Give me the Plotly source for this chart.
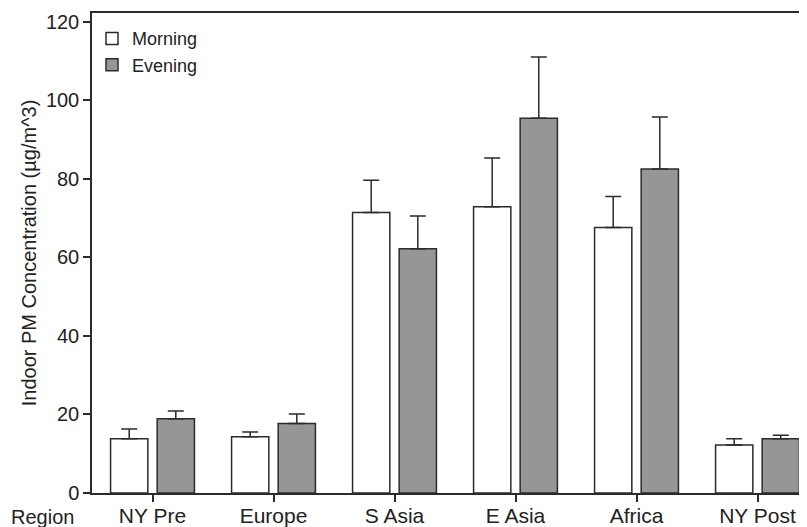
import plotly.graph_objects as go

regions = ["NY Pre", "Europe", "S Asia", "E Asia", "Africa", "NY Post"]
morning = [13.8, 14.3, 71.4, 72.9, 67.6, 12.2]
morning_err_top = [16.3, 15.5, 79.6, 85.3, 75.5, 13.8]
evening = [18.9, 17.7, 62.2, 95.4, 82.5, 13.8]
evening_err_top = [20.9, 20.1, 70.5, 111.0, 95.7, 14.7]

m_err = [t - v for t, v in zip(morning_err_top, morning)]
e_err = [t - v for t, v in zip(evening_err_top, evening)]

FONT = "Liberation Sans, Arial, Helvetica, sans-serif"
DARK = "#2b2b2b"

# page body has an 8px margin; compensate so the plot lands where the reference has it
L, T, B = 84, 5, 42
PW = 807 - L

fig = go.Figure()
fig.add_trace(go.Bar(
    name="Morning", x=regions, y=morning,
    marker=dict(color="white", line=dict(color=DARK, width=1.5)),
    error_y=dict(type="data", symmetric=False, array=m_err,
                 arrayminus=[0] * len(m_err), color=DARK, thickness=1.5, width=8),
))
fig.add_trace(go.Bar(
    name="Evening", x=regions, y=evening,
    marker=dict(color="#969696", line=dict(color=DARK, width=1.5)),
    error_y=dict(type="data", symmetric=False, array=e_err,
                 arrayminus=[0] * len(e_err), color=DARK, thickness=1.5, width=8),
))

fig.update_layout(
    width=807, height=527,
    margin=dict(l=L, r=0, t=T, b=B, autoexpand=False),
    paper_bgcolor="white", plot_bgcolor="white",
    barmode="group", bargap=0.23, bargroupgap=0.2,
    font=dict(family=FONT, color="#222", size=20),
    showlegend=True,
    legend=dict(x=0.0, y=0.985, xanchor="left", yanchor="top",
                bgcolor="rgba(0,0,0,0)", font=dict(size=18, family=FONT, color="#222"),
                tracegroupgap=6),
    xaxis=dict(range=[-0.5, -0.5 + PW / 121.0], showline=True, linecolor=DARK, linewidth=1.5,
               mirror=True, ticks="outside", ticklen=7, tickcolor=DARK, tickwidth=1.5,
               showgrid=False, zeroline=False, tickfont=dict(size=21),
               automargin=False, ticklabelstandoff=-4),
    yaxis=dict(range=[0, 122.2], showline=True, linecolor=DARK, linewidth=1.5,
               ticks="outside", ticklen=7, tickcolor=DARK, tickwidth=1.5,
               tickvals=[0, 20, 40, 60, 80, 100, 120],
               showgrid=False, zeroline=False, tickfont=dict(size=20), automargin=False,
               title=dict(text="Indoor PM Concentration (µg/m^3)", font=dict(size=20), standoff=4)),
)

fig.add_annotation(text="Region", xref="paper", yref="paper",
                   x=(1 - L) / PW, y=0, yshift=-24, xanchor="left", yanchor="middle",
                   showarrow=False, font=dict(size=20, family=FONT, color="#222"))

fig.write_html("out.html")
